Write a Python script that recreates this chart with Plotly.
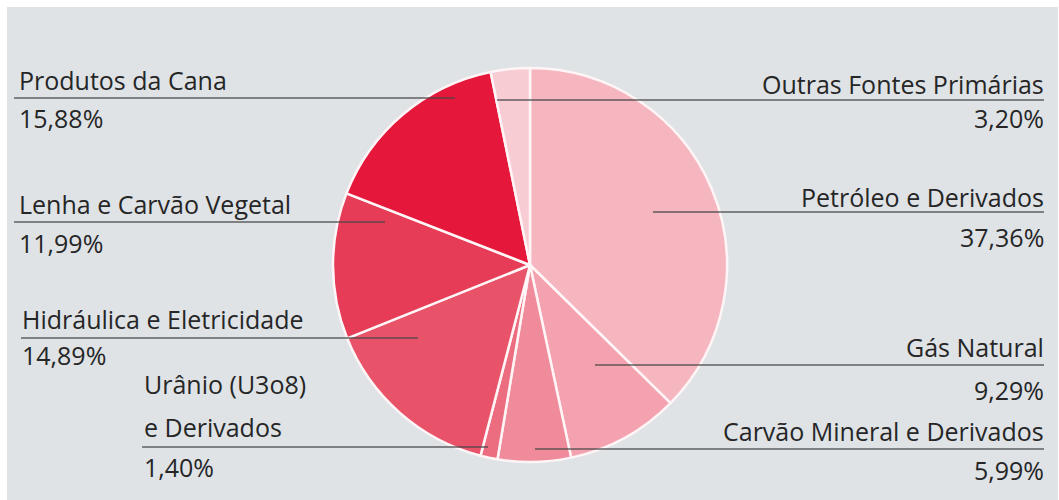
import plotly.graph_objects as go

# Energy matrix shares (%), clockwise from 12 o'clock
fontes = [
    "Petróleo e Derivados",
    "Gás Natural",
    "Carvão Mineral e Derivados",
    "Urânio (U3o8) e Derivados",
    "Hidráulica e Eletricidade",
    "Lenha e Carvão Vegetal",
    "Produtos da Cana",
    "Outras Fontes Primárias",
]
participacao = [37.36, 9.29, 5.99, 1.40, 14.89, 11.99, 15.88, 3.20]
cores = ["#f5b6c0", "#f4a2b0", "#f08b9b", "#ec6c80", "#e9536a", "#e63c57", "#e5183b", "#f8ccd3"]

W, H = 1059, 500
cx, cy, r = 530, 265, 197


def px(x):
    return x / W


def py(y):
    return 1 - y / H


def fmt(v):
    return f"{v:.2f}".replace(".", ",") + "%"


fig = go.Figure(
    go.Pie(
        labels=fontes,
        values=participacao,
        sort=False,
        direction="clockwise",
        rotation=0,
        marker=dict(colors=cores, line=dict(color="#fff5f6", width=2.5)),
        textinfo="none",
        hoverinfo="label+value",
        showlegend=False,
        domain=dict(x=[px(cx - r), px(cx + r)], y=[py(cy + r), py(cy - r)]),
    )
)

FONT = dict(family="Open Sans, Lato, sans-serif", size=25, color="#262626")

# label layout: (name lines, value index, text x, anchor, name y, value y, line y, line x0, line x1)
rotulos = [
    (["Outras Fontes Primárias"], 7, 1046, "right", [84], 118, 100, 497, 1044),
    (["Petróleo e Derivados"], 0, 1046, "right", [197], 237, 212, 653, 1044),
    (["Gás Natural"], 1, 1046, "right", [347], 390, 365, 595, 1044),
    (["Carvão Mineral e Derivados"], 2, 1046, "right", [431], 470, 449, 535, 1044),
    (["Produtos da Cana"], 6, 17, "left", [80], 118, 98, 14, 455),
    (["Lenha e Carvão Vegetal"], 5, 17, "left", [204], 243, 222, 14, 385),
    (["Hidráulica e Eletricidade"], 4, 20, "left", [319], 355, 338, 21, 418),
    (["Urânio (U3o8)", "e Derivados"], 3, 142, "left", [384, 427], 467, 447, 142, 488),
]

shapes = [
    dict(type="rect", xref="paper", yref="paper", layer="below",
         x0=px(7), x1=px(1058), y0=py(500), y1=py(7),
         fillcolor="#dfe3e6", line=dict(width=0)),
]
annotations = []
for nomes, idx, tx, anc, ys, vy, ly, lx0, lx1 in rotulos:
    for nome, yy in zip(nomes, ys):
        annotations.append(dict(text=nome, x=px(tx), y=py(yy), xref="paper", yref="paper",
                                xanchor=anc, yanchor="middle", showarrow=False, font=FONT))
    annotations.append(dict(text=fmt(participacao[idx]), x=px(tx), y=py(vy), xref="paper",
                            yref="paper", xanchor=anc, yanchor="middle", showarrow=False, font=FONT))
    shapes.append(dict(type="line", xref="paper", yref="paper", layer="above",
                       x0=px(lx0), x1=px(lx1), y0=py(ly), y1=py(ly),
                       line=dict(color="rgba(70,70,70,0.85)", width=1.3)))

fig.update_layout(
    width=W, height=H,
    margin=dict(l=0, r=0, t=0, b=0),
    paper_bgcolor="white",
    plot_bgcolor="white",
    shapes=shapes,
    annotations=annotations,
)

fig.write_html("out.html")
